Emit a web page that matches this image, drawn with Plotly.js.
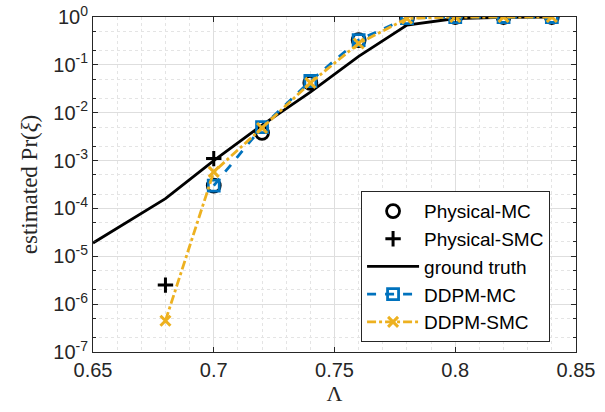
<!DOCTYPE html>
<html><head><meta charset="utf-8">
<script src="https://cdn.plot.ly/plotly-3.0.1.min.js"></script>
<style>html,body{margin:0;padding:0;background:#fff}#c{width:605px;height:412px}</style>
</head><body><div id="c"></div>
<script>
// Data
const lambdaGT = [0.65, 0.68, 0.70, 0.72, 0.74, 0.76, 0.78, 0.80, 0.82, 0.84];
const groundTruth = [1.9e-5, 1.6e-4, 1.0e-3, 5.5e-3, 0.027, 0.15, 0.68, 0.93, 0.98, 0.99];

const lambdaPhysMC = [0.70, 0.72, 0.74, 0.76, 0.78, 0.80, 0.82, 0.84];
const physicalMC = [3.0e-4, 3.8e-3, 0.042, 0.33, 0.95, 1.0, 1.0, 1.0];

const lambdaPhysSMC = [0.68, 0.70];
const physicalSMC = [2.5e-6, 1.1e-3];

const lambdaDDPMMC = [0.70, 0.72, 0.74, 0.76, 0.78, 0.80, 0.82, 0.84];
const ddpmMC = [3.0e-4, 5.0e-3, 0.046, 0.33, 0.95, 1.0, 1.0, 1.0];

const lambdaDDPMSMC = [0.68, 0.70, 0.72, 0.74, 0.76, 0.78, 0.80, 0.82, 0.84];
const ddpmSMC = [4.5e-7, 5.8e-4, 4.8e-3, 0.042, 0.28, 0.93, 1.0, 1.0, 1.0];

const yTickVals = [1e-7, 1e-6, 1e-5, 1e-4, 1e-3, 1e-2, 1e-1, 1];
const yTickText = ['10<sup>-7</sup>','10<sup>-6</sup>','10<sup>-5</sup>','10<sup>-4</sup>','10<sup>-3</sup>','10<sup>-2</sup>','10<sup>-1</sup>','10<sup>0</sup>'];
const xTickVals = [0.65, 0.7, 0.75, 0.8, 0.85];
const xTickText = ['0.65', '0.7', '0.75', '0.8', '0.85'];

const blue = '#0072BD', orange = '#EDB120';
const traces = [
  {x: lambdaPhysMC, y: physicalMC, name: 'Physical-MC', mode: 'markers',
   marker: {symbol: 'circle-open', size: 13, color: '#000', line: {width: 2.8, color: '#000'}}},
  {x: lambdaPhysSMC, y: physicalSMC, name: 'Physical-SMC', mode: 'markers',
   marker: {symbol: 'cross-thin-open', size: 11, color: '#000', line: {width: 3, color: '#000'}}},
  {x: lambdaGT, y: groundTruth, name: 'ground truth', mode: 'lines',
   line: {color: '#000', width: 2.8}},
  {x: lambdaDDPMMC, y: ddpmMC, name: 'DDPM-MC', mode: 'lines+markers',
   line: {color: blue, width: 2.8, dash: 'dash'},
   marker: {symbol: 'square-open', size: 11, color: blue, line: {width: 2.8, color: blue}}},
  {x: lambdaDDPMSMC, y: ddpmSMC, name: 'DDPM-SMC', mode: 'lines+markers',
   line: {color: orange, width: 2.8, dash: 'dashdot'},
   marker: {symbol: 'x-thin-open', size: 10, color: orange, line: {width: 3, color: orange}}}
];

const axisCommon = {
  showline: true, mirror: 'ticks', linecolor: '#262626', linewidth: 1,
  ticks: 'inside', ticklen: 5, tickcolor: '#262626',
  gridcolor: '#dedede', gridwidth: 1, zeroline: false, automargin: false,
  tickfont: {family: 'Liberation Sans, Arial, sans-serif', size: 20, color: '#262626'}
};

const layout = {
  width: 605, height: 412,
  margin: {l: 93, r: 29, t: 17, b: 60},
  paper_bgcolor: '#fff', plot_bgcolor: '#fff',
  showlegend: true,
  xaxis: Object.assign({}, axisCommon, {
    range: [0.65, 0.85], tickvals: xTickVals, ticktext: xTickText,
    minor: {dtick: 0.01, showgrid: true, gridcolor: '#e4e4e4', griddash: 'dot', ticks: ''},
    title: {text: 'Λ', font: {family: 'Liberation Serif, Times New Roman, serif', size: 22, color: '#262626'}, standoff: 2}
  }),
  yaxis: Object.assign({}, axisCommon, {
    type: 'log', range: [-7, 0], tickvals: yTickVals, ticktext: yTickText,
    minor: {showgrid: true, gridcolor: '#e4e4e4', griddash: 'dot', ticks: 'inside', ticklen: 3, tickcolor: '#262626'},
    title: {text: 'estimated Pr(<i>ξ</i>)', font: {family: 'Liberation Serif, Times New Roman, serif', size: 23, color: '#262626'}, standoff: 9}
  }),
  legend: {
    x: 0.555, y: 0.48, xanchor: 'left', yanchor: 'top',
    bgcolor: '#fff', bordercolor: '#262626', borderwidth: 1,
    font: {family: 'Liberation Sans, Arial, sans-serif', size: 19, color: '#000'},
    tracegroupgap: 0, itemwidth: 52
  }
};

Plotly.newPlot('c', traces, layout, {displayModeBar: false, staticPlot: true});
</script>
</body></html>
